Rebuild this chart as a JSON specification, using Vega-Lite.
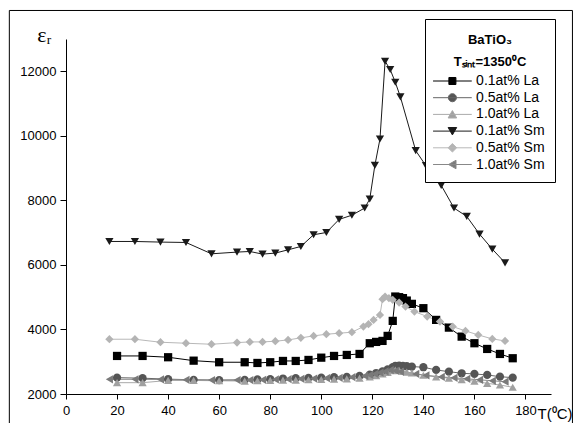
{
  "$schema": "https://vega.github.io/schema/vega-lite/v6.json",
  "width": 485,
  "height": 355,
  "autosize": {"type": "none"},
  "padding": {"left": 66, "top": 39, "right": 23, "bottom": 29},
  "background": "white",
  "config": {
    "view": {"stroke": null},
    "font": "Liberation Sans",
    "axis": {
      "domainColor": "black", "tickColor": "black", "labelColor": "black", "titleColor": "black",
      "labelFont": "Liberation Sans", "labelFontSize": 13, "domainWidth": 1, "tickWidth": 1, "grid": false,
      "labelOverlap": false, "labelFlush": false
    },
    "legend": {
      "padding": 10, "strokeColor": "black", "fillColor": "white", "cornerRadius": 0,
      "titleFont": "Liberation Sans", "titleFontSize": 13, "titleFontWeight": "bold", "titleColor": "black",
      "titleAnchor": "middle", "titleAlign": "center", "titleLineHeight": 22, "titlePadding": 10, "titleLimit": 300,
      "labelFont": "Liberation Sans", "labelFontSize": 14, "labelColor": "black", "labelLimit": 300,
      "labelOffset": 16.7, "symbolOffset": 10.4, "symbolSize": 81, "symbolStrokeWidth": 1, "rowPadding": 2.7
    }
  },
  "data": {"values": [
    {"series": "0.1at% La", "T": 20, "eps": 3179}, {"series": "0.1at% La", "T": 30, "eps": 3179}, {"series": "0.1at% La", "T": 40, "eps": 3139},
    {"series": "0.1at% La", "T": 50, "eps": 3033}, {"series": "0.1at% La", "T": 60, "eps": 2984}, {"series": "0.1at% La", "T": 70, "eps": 2984},
    {"series": "0.1at% La", "T": 75, "eps": 2962}, {"series": "0.1at% La", "T": 80, "eps": 2984}, {"series": "0.1at% La", "T": 85, "eps": 3024},
    {"series": "0.1at% La", "T": 90, "eps": 3024}, {"series": "0.1at% La", "T": 95, "eps": 3055}, {"series": "0.1at% La", "T": 100, "eps": 3126},
    {"series": "0.1at% La", "T": 105, "eps": 3179}, {"series": "0.1at% La", "T": 110, "eps": 3210}, {"series": "0.1at% La", "T": 115, "eps": 3241},
    {"series": "0.1at% La", "T": 119, "eps": 3573}, {"series": "0.1at% La", "T": 121.5, "eps": 3614}, {"series": "0.1at% La", "T": 124, "eps": 3645},
    {"series": "0.1at% La", "T": 126, "eps": 3800}, {"series": "0.1at% La", "T": 128, "eps": 4265}, {"series": "0.1at% La", "T": 129, "eps": 5020},
    {"series": "0.1at% La", "T": 130.5, "eps": 5000}, {"series": "0.1at% La", "T": 132, "eps": 4970}, {"series": "0.1at% La", "T": 133.5, "eps": 4895},
    {"series": "0.1at% La", "T": 135.5, "eps": 4793}, {"series": "0.1at% La", "T": 140, "eps": 4659}, {"series": "0.1at% La", "T": 145, "eps": 4296},
    {"series": "0.1at% La", "T": 150, "eps": 4057}, {"series": "0.1at% La", "T": 155, "eps": 3778}, {"series": "0.1at% La", "T": 160, "eps": 3573},
    {"series": "0.1at% La", "T": 165, "eps": 3396}, {"series": "0.1at% La", "T": 170, "eps": 3241}, {"series": "0.1at% La", "T": 175, "eps": 3108},

    {"series": "0.5at% La", "T": 20, "eps": 2506}, {"series": "0.5at% La", "T": 30, "eps": 2490}, {"series": "0.5at% La", "T": 40, "eps": 2460},
    {"series": "0.5at% La", "T": 50, "eps": 2440}, {"series": "0.5at% La", "T": 60, "eps": 2430}, {"series": "0.5at% La", "T": 70, "eps": 2440},
    {"series": "0.5at% La", "T": 75, "eps": 2450}, {"series": "0.5at% La", "T": 80, "eps": 2460}, {"series": "0.5at% La", "T": 85, "eps": 2480},
    {"series": "0.5at% La", "T": 90, "eps": 2490}, {"series": "0.5at% La", "T": 95, "eps": 2500}, {"series": "0.5at% La", "T": 100, "eps": 2510},
    {"series": "0.5at% La", "T": 105, "eps": 2520}, {"series": "0.5at% La", "T": 110, "eps": 2530}, {"series": "0.5at% La", "T": 115, "eps": 2560},
    {"series": "0.5at% La", "T": 119, "eps": 2600}, {"series": "0.5at% La", "T": 121.5, "eps": 2650}, {"series": "0.5at% La", "T": 124, "eps": 2700},
    {"series": "0.5at% La", "T": 126, "eps": 2760}, {"series": "0.5at% La", "T": 128, "eps": 2830}, {"series": "0.5at% La", "T": 129, "eps": 2870},
    {"series": "0.5at% La", "T": 130.5, "eps": 2880}, {"series": "0.5at% La", "T": 132, "eps": 2870}, {"series": "0.5at% La", "T": 133.5, "eps": 2860},
    {"series": "0.5at% La", "T": 135.5, "eps": 2850}, {"series": "0.5at% La", "T": 140, "eps": 2829}, {"series": "0.5at% La", "T": 145, "eps": 2745},
    {"series": "0.5at% La", "T": 150, "eps": 2692}, {"series": "0.5at% La", "T": 155, "eps": 2642}, {"series": "0.5at% La", "T": 160, "eps": 2621},
    {"series": "0.5at% La", "T": 165, "eps": 2590}, {"series": "0.5at% La", "T": 170, "eps": 2537}, {"series": "0.5at% La", "T": 175, "eps": 2506},

    {"series": "1.0at% La", "T": 20, "eps": 2351}, {"series": "1.0at% La", "T": 30, "eps": 2351}, {"series": "1.0at% La", "T": 40, "eps": 2420},
    {"series": "1.0at% La", "T": 50, "eps": 2420}, {"series": "1.0at% La", "T": 60, "eps": 2410}, {"series": "1.0at% La", "T": 70, "eps": 2400},
    {"series": "1.0at% La", "T": 75, "eps": 2410}, {"series": "1.0at% La", "T": 80, "eps": 2420}, {"series": "1.0at% La", "T": 85, "eps": 2430},
    {"series": "1.0at% La", "T": 90, "eps": 2430}, {"series": "1.0at% La", "T": 95, "eps": 2440}, {"series": "1.0at% La", "T": 100, "eps": 2450},
    {"series": "1.0at% La", "T": 105, "eps": 2460}, {"series": "1.0at% La", "T": 110, "eps": 2470}, {"series": "1.0at% La", "T": 115, "eps": 2490},
    {"series": "1.0at% La", "T": 119, "eps": 2530}, {"series": "1.0at% La", "T": 121.5, "eps": 2570}, {"series": "1.0at% La", "T": 124, "eps": 2620},
    {"series": "1.0at% La", "T": 126, "eps": 2670}, {"series": "1.0at% La", "T": 128, "eps": 2720}, {"series": "1.0at% La", "T": 129, "eps": 2740},
    {"series": "1.0at% La", "T": 130.5, "eps": 2730}, {"series": "1.0at% La", "T": 132, "eps": 2700}, {"series": "1.0at% La", "T": 133.5, "eps": 2680},
    {"series": "1.0at% La", "T": 135.5, "eps": 2650}, {"series": "1.0at% La", "T": 140, "eps": 2580}, {"series": "1.0at% La", "T": 145, "eps": 2530},
    {"series": "1.0at% La", "T": 150, "eps": 2490}, {"series": "1.0at% La", "T": 155, "eps": 2440}, {"series": "1.0at% La", "T": 160, "eps": 2400},
    {"series": "1.0at% La", "T": 165, "eps": 2330}, {"series": "1.0at% La", "T": 170, "eps": 2280}, {"series": "1.0at% La", "T": 175, "eps": 2208},

    {"series": "0.1at% Sm", "T": 17, "eps": 6726}, {"series": "0.1at% Sm", "T": 27, "eps": 6726}, {"series": "0.1at% Sm", "T": 37, "eps": 6707},
    {"series": "0.1at% Sm", "T": 47, "eps": 6695}, {"series": "0.1at% Sm", "T": 57, "eps": 6344}, {"series": "0.1at% Sm", "T": 67, "eps": 6397},
    {"series": "0.1at% Sm", "T": 72, "eps": 6416}, {"series": "0.1at% Sm", "T": 77, "eps": 6335}, {"series": "0.1at% Sm", "T": 82, "eps": 6366},
    {"series": "0.1at% Sm", "T": 87, "eps": 6468}, {"series": "0.1at% Sm", "T": 92, "eps": 6571}, {"series": "0.1at% Sm", "T": 97, "eps": 6934},
    {"series": "0.1at% Sm", "T": 102, "eps": 7005}, {"series": "0.1at% Sm", "T": 107, "eps": 7410}, {"series": "0.1at% Sm", "T": 112, "eps": 7540},
    {"series": "0.1at% Sm", "T": 117, "eps": 7762}, {"series": "0.1at% Sm", "T": 119, "eps": 8041}, {"series": "0.1at% Sm", "T": 121, "eps": 9084},
    {"series": "0.1at% Sm", "T": 123, "eps": 9903}, {"series": "0.1at% Sm", "T": 125, "eps": 12312}, {"series": "0.1at% Sm", "T": 127, "eps": 12054},
    {"series": "0.1at% Sm", "T": 129, "eps": 11660}, {"series": "0.1at% Sm", "T": 131, "eps": 11206}, {"series": "0.1at% Sm", "T": 137, "eps": 9540},
    {"series": "0.1at% Sm", "T": 141, "eps": 9075}, {"series": "0.1at% Sm", "T": 147, "eps": 8464}, {"series": "0.1at% Sm", "T": 152, "eps": 7762},
    {"series": "0.1at% Sm", "T": 157, "eps": 7502}, {"series": "0.1at% Sm", "T": 162, "eps": 6955}, {"series": "0.1at% Sm", "T": 167, "eps": 6490},
    {"series": "0.1at% Sm", "T": 172, "eps": 6065},

    {"series": "0.5at% Sm", "T": 17, "eps": 3697}, {"series": "0.5at% Sm", "T": 27, "eps": 3697}, {"series": "0.5at% Sm", "T": 37, "eps": 3604},
    {"series": "0.5at% Sm", "T": 47, "eps": 3573}, {"series": "0.5at% Sm", "T": 57, "eps": 3542}, {"series": "0.5at% Sm", "T": 67, "eps": 3592},
    {"series": "0.5at% Sm", "T": 72, "eps": 3614}, {"series": "0.5at% Sm", "T": 77, "eps": 3614}, {"series": "0.5at% Sm", "T": 82, "eps": 3635},
    {"series": "0.5at% Sm", "T": 87, "eps": 3676}, {"series": "0.5at% Sm", "T": 92, "eps": 3740}, {"series": "0.5at% Sm", "T": 97, "eps": 3800},
    {"series": "0.5at% Sm", "T": 102, "eps": 3852}, {"series": "0.5at% Sm", "T": 107, "eps": 3883}, {"series": "0.5at% Sm", "T": 112, "eps": 3915},
    {"series": "0.5at% Sm", "T": 116.5, "eps": 4088}, {"series": "0.5at% Sm", "T": 118.5, "eps": 4163}, {"series": "0.5at% Sm", "T": 120.5, "eps": 4296},
    {"series": "0.5at% Sm", "T": 123, "eps": 4451}, {"series": "0.5at% Sm", "T": 124, "eps": 4938}, {"series": "0.5at% Sm", "T": 125, "eps": 5020},
    {"series": "0.5at% Sm", "T": 126.5, "eps": 4970}, {"series": "0.5at% Sm", "T": 128, "eps": 4917}, {"series": "0.5at% Sm", "T": 130.5, "eps": 4833},
    {"series": "0.5at% Sm", "T": 133, "eps": 4709}, {"series": "0.5at% Sm", "T": 136.5, "eps": 4554}, {"series": "0.5at% Sm", "T": 141.5, "eps": 4399},
    {"series": "0.5at% Sm", "T": 146.5, "eps": 4243}, {"series": "0.5at% Sm", "T": 151.5, "eps": 4088}, {"series": "0.5at% Sm", "T": 156.5, "eps": 3955},
    {"series": "0.5at% Sm", "T": 161.5, "eps": 3831}, {"series": "0.5at% Sm", "T": 167, "eps": 3707}, {"series": "0.5at% Sm", "T": 172, "eps": 3645},

    {"series": "1.0at% Sm", "T": 17, "eps": 2456}, {"series": "1.0at% Sm", "T": 27, "eps": 2456}, {"series": "1.0at% Sm", "T": 37, "eps": 2450},
    {"series": "1.0at% Sm", "T": 47, "eps": 2440}, {"series": "1.0at% Sm", "T": 57, "eps": 2430}, {"series": "1.0at% Sm", "T": 67, "eps": 2430},
    {"series": "1.0at% Sm", "T": 72, "eps": 2430}, {"series": "1.0at% Sm", "T": 77, "eps": 2440}, {"series": "1.0at% Sm", "T": 82, "eps": 2450},
    {"series": "1.0at% Sm", "T": 87, "eps": 2460}, {"series": "1.0at% Sm", "T": 92, "eps": 2470}, {"series": "1.0at% Sm", "T": 97, "eps": 2480},
    {"series": "1.0at% Sm", "T": 102, "eps": 2490}, {"series": "1.0at% Sm", "T": 107, "eps": 2500}, {"series": "1.0at% Sm", "T": 112, "eps": 2520},
    {"series": "1.0at% Sm", "T": 117, "eps": 2560}, {"series": "1.0at% Sm", "T": 119, "eps": 2590}, {"series": "1.0at% Sm", "T": 121, "eps": 2620},
    {"series": "1.0at% Sm", "T": 123, "eps": 2660}, {"series": "1.0at% Sm", "T": 125, "eps": 2700}, {"series": "1.0at% Sm", "T": 127, "eps": 2740},
    {"series": "1.0at% Sm", "T": 129, "eps": 2720}, {"series": "1.0at% Sm", "T": 131, "eps": 2690}, {"series": "1.0at% Sm", "T": 137, "eps": 2620},
    {"series": "1.0at% Sm", "T": 141, "eps": 2580}, {"series": "1.0at% Sm", "T": 147, "eps": 2530}, {"series": "1.0at% Sm", "T": 152, "eps": 2500},
    {"series": "1.0at% Sm", "T": 157, "eps": 2470}, {"series": "1.0at% Sm", "T": 162, "eps": 2440}, {"series": "1.0at% Sm", "T": 167, "eps": 2410},
    {"series": "1.0at% Sm", "T": 172, "eps": 2380}
  ]},
  "layer": [
    {
      "mark": {"type": "line", "strokeWidth": 1},
      "encoding": {
        "x": {"field": "T", "type": "quantitative",
          "scale": {"domain": [0, 190], "nice": false, "zero": false},
          "axis": {
            "values": [0, 10, 20, 30, 40, 50, 60, 70, 80, 90, 100, 110, 120, 130, 140, 150, 160, 170, 180, 190],
            "labelExpr": "datum.value % 20 === 0 ? datum.label : ''",
            "format": "d",
            "tickSize": {"condition": {"test": "datum.value % 20 === 0", "value": 5}, "value": 3},
            "labelPadding": 5,
            "title": "T(⁰C)", "titleX": 471, "titleY": 24, "titleAlign": "left", "titleBaseline": "alphabetic",
            "titleFontSize": 15, "titleFontWeight": "normal", "titleFont": "Liberation Sans"
          }
        },
        "y": {"field": "eps", "type": "quantitative",
          "scale": {"domain": [2000, 13000], "nice": false, "zero": false},
          "axis": {
            "values": [2000, 3000, 4000, 5000, 6000, 7000, 8000, 9000, 10000, 11000, 12000, 13000],
            "labelExpr": "datum.value % 2000 === 0 ? datum.label : ''",
            "format": "d",
            "tickSize": {"condition": {"test": "datum.value % 2000 === 0", "value": 6}, "value": 3},
            "labelPadding": 4,
            "title": "εᵣ", "titleAngle": 0, "titleX": -22, "titleY": 2, "titleAlign": "center", "titleBaseline": "alphabetic",
            "titleFont": "Liberation Serif", "titleFontSize": 22, "titleFontWeight": "normal"
          }
        },
        "stroke": {"field": "series", "type": "nominal",
          "scale": {"domain": ["0.1at% La", "0.5at% La", "1.0at% La", "0.1at% Sm", "0.5at% Sm", "1.0at% Sm"],
                    "range": ["#000000", "#666666", "#aaaaaa", "#1a1a1a", "#b8b8b8", "#888888"]},
          "legend": {
            "title": ["BaTiO₃", "Tₛᵢₙₜ=1350⁰C"],
            "orient": "none", "legendX": 359, "legendY": -20,
            "encode": {
              "title": {"update": {"dy": {"value": 5}}},
              "symbols": {
                "update": {
                  "shape": {"signal": "['M-4.3,0H4.3M-0.78,-0.78H0.78V0.78H-0.78Z','M-4.3,0H4.3M-0.9,0A0.9,0.9,0,1,0,0.9,0A0.9,0.9,0,1,0,-0.9,0Z','M-4.3,0H4.3M0,-0.85L0.95,0.8H-0.95Z','M-4.3,0H4.3M0,0.85L0.95,-0.8H-0.95Z','M-4.3,0H4.3M0,-0.95L0.95,0L0,0.95L-0.95,0Z','M-4.3,0H4.3M-0.85,0L0.8,-0.95V0.95Z'][indexof(['0.1at% La','0.5at% La','1.0at% La','0.1at% Sm','0.5at% Sm','1.0at% Sm'], datum.value)]"},
                  "fill": {"signal": "['#000000','#555555','#a0a0a0','#1a1a1a','#b4b4b4','#7a7a7a'][indexof(['0.1at% La','0.5at% La','1.0at% La','0.1at% Sm','0.5at% Sm','1.0at% Sm'], datum.value)]"},
                  "strokeWidth": {"value": 1},
                  "size": {"value": 81},
                  "opacity": {"value": 1}
                }
              }
            }
          }
        }
      }
    },
    {
      "mark": {"type": "point", "filled": true, "size": 68, "opacity": 1},
      "encoding": {
        "x": {"field": "T", "type": "quantitative"},
        "y": {"field": "eps", "type": "quantitative"},
        "shape": {"field": "series", "type": "nominal",
          "scale": {"domain": ["1.0at% Sm", "0.5at% Sm", "0.1at% Sm", "1.0at% La", "0.5at% La", "0.1at% La"],
                    "range": ["triangle-left", "diamond", "triangle-down", "triangle-up", "circle", "square"]},
          "legend": null},
        "color": {"field": "series", "type": "nominal",
          "scale": {"domain": ["1.0at% Sm", "0.5at% Sm", "0.1at% Sm", "1.0at% La", "0.5at% La", "0.1at% La"],
                    "range": ["#7a7a7a", "#b4b4b4", "#1a1a1a", "#a0a0a0", "#555555", "#000000"]},
          "legend": null}
      }
    },
    {
      "data": {"values": [{}]},
      "mark": {"type": "rect", "fill": null, "stroke": "black", "strokeWidth": 1},
      "encoding": {
        "x": {"datum": -22.2, "type": "quantitative"},
        "x2": {"datum": 198.4},
        "y": {"datum": 13884, "type": "quantitative"},
        "y2": {"datum": 883}
      }
    }
  ]
}
